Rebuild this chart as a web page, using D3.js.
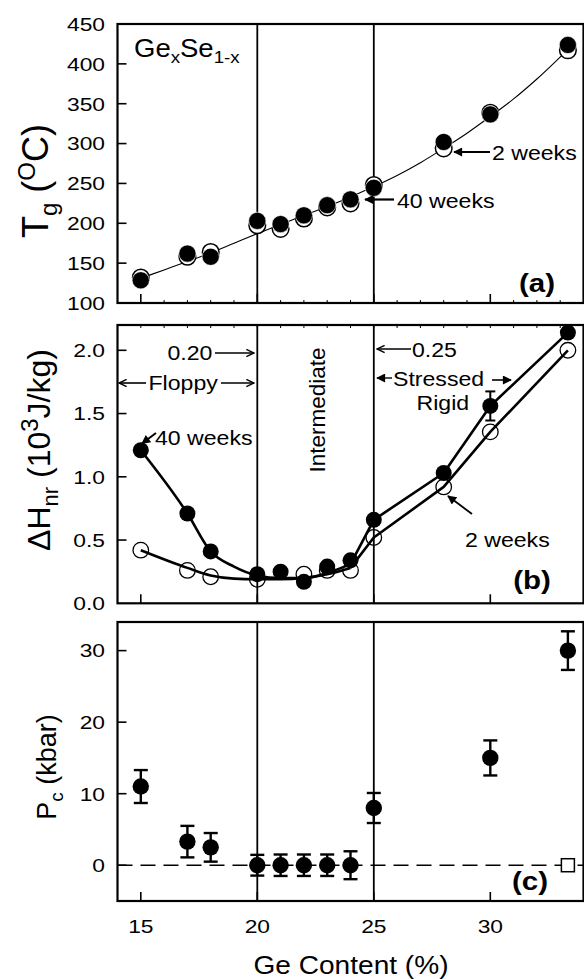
<!DOCTYPE html>
<html><head><meta charset="utf-8">
<script src="https://cdn.jsdelivr.net/npm/d3@7"></script>
<style>
html,body{margin:0;padding:0;background:#fff;}
svg{display:block;font-family:"Liberation Sans",Arial,Helvetica,sans-serif;}
</style></head><body>
<svg id="chart" width="584" height="979"></svg>
<script>
// ---------- data ----------
const geContent = [15, 17, 18, 20, 21, 22, 23, 24, 25, 28, 30, 33.33];
// panel (a) Tg (°C)
const tg40weeks = [128.5, 162, 158, 203, 199, 210, 222.7, 230, 244.5, 302, 336.6, 423.7];
const tg2weeks  = [132, 158, 164, 197.5, 193, 206, 220, 225, 248, 294, 338.7, 417];
const tgFitX = [15, 16, 17, 18, 19, 20, 21, 22, 23, 24, 25, 26, 27, 28, 29, 30, 31, 32, 33.33];
const tgFitY = [131, 141.5, 152, 163, 175, 187, 198.5, 210, 221, 233, 246, 260, 276, 294, 313, 334, 356, 381, 418];
// panel (b) ΔHnr (10^3 J/kg)
const dh40weeks = [1.21, 0.71, 0.41, 0.23, 0.25, 0.17, 0.29, 0.34, 0.66, 1.03, 1.56, 2.14];
const dh2X      = [15, 17, 18, 20, 22, 23, 24, 25, 28, 30, 33.33];
const dh2weeks  = [0.42, 0.26, 0.21, 0.19, 0.23, 0.26, 0.26, 0.52, 0.92, 1.355, 2.0];
const dhCurveX   = [15, 17, 18, 19, 20, 21, 22, 23, 24, 25, 28, 30, 33.33];
const dh40Curve  = [1.21, 0.71, 0.41, 0.29, 0.22, 0.20, 0.20, 0.24, 0.31, 0.66, 1.03, 1.56, 2.14];
const dh2Curve   = [0.42, 0.28, 0.22, 0.195, 0.19, 0.19, 0.20, 0.23, 0.28, 0.52, 0.92, 1.355, 2.0];
const dhErrX = [30], dhErrVal = [1.56], dhErr = [0.115];
// panel (c) Pc (kbar)
const pcX   = [15, 17, 18, 20, 21, 22, 23, 24, 25, 30, 33.33];
const pcVal = [11.0, 3.3, 2.5, 0, 0, 0, 0, 0, 8.0, 15.0, 30.0];
const pcErr = [2.3, 2.2, 2.0, 1.45, 1.5, 1.5, 1.5, 1.95, 2.1, 2.45, 2.7];
const pcOpenX = [33.33], pcOpenVal = [0];
// ticks
const xTicks = [15, 20, 25, 30];
const xMinor = [16, 17, 18, 19, 21, 22, 23, 24, 26, 27, 28, 29, 31, 32, 33];
const tgTicks = [100, 150, 200, 250, 300, 350, 400, 450];
const dhTicks = [0.0, 0.5, 1.0, 1.5, 2.0];
const pcTicks = [0, 10, 20, 30];
const boundaries = [20, 25];

// ---------- layout ----------
const svg = d3.select("#chart");
const X0 = 117.5, X1 = 583.5;
const x = d3.scaleLinear().domain([14, 34]).range([X0, X1]);
const panels = {
  a: {top: 24, bottom: 303, y: d3.scaleLinear().domain([100, 450]).range([303, 24])},
  b: {top: 325, bottom: 603.3, y: d3.scaleLinear().domain([0, 2.2]).range([603.3, 325])},
  c: {top: 622, bottom: 901, y: d3.scaleLinear().domain([-5, 34]).range([901, 622])}
};
const TICKFS = 19, TICKSX = 1.2, ANNFS = 21, ANNSX = 1.1;

const defs = svg.append("defs");
defs.append("marker").attr("id", "solid").attr("viewBox", "0 0 10 10")
  .attr("refX", 9).attr("refY", 5).attr("markerWidth", 11).attr("markerHeight", 9)
  .attr("markerUnits", "userSpaceOnUse").attr("orient", "auto")
  .append("path").attr("d", "M0,0 L10,5 L0,10 z").attr("fill", "#000");
defs.append("marker").attr("id", "open").attr("viewBox", "0 0 10 10")
  .attr("refX", 9.5).attr("refY", 5).attr("markerWidth", 10).attr("markerHeight", 9)
  .attr("markerUnits", "userSpaceOnUse").attr("orient", "auto")
  .append("path").attr("d", "M1,1 L9.5,5 L1,9").attr("fill", "none").attr("stroke", "#000").attr("stroke-width", 1.6);

function drawPanel(p, ticks, fmt, minorBottom, minorTop) {
  const g = svg.append("g");
  g.selectAll(".bnd").data(boundaries).join("line")
    .attr("x1", d => x(d)).attr("x2", d => x(d)).attr("y1", p.top).attr("y2", p.bottom)
    .attr("stroke", "#000").attr("stroke-width", 1.8);
  g.selectAll(".yt").data(ticks.filter(t => p.y(t) > p.top + 2 && p.y(t) < p.bottom - 2)).join("line")
    .attr("x1", X0).attr("x2", X0 + 9).attr("y1", d => p.y(d)).attr("y2", d => p.y(d))
    .attr("stroke", "#000").attr("stroke-width", 1.6);
  g.selectAll(".yl").data(ticks).join("text")
    .attr("transform", d => `translate(105,${p.y(d)}) scale(${TICKSX},1)`).attr("dy", "0.36em")
    .attr("text-anchor", "end").attr("font-size", TICKFS).text(fmt);
  g.selectAll(".xt").data(xTicks).join("line")
    .attr("x1", d => x(d)).attr("x2", d => x(d)).attr("y1", p.bottom).attr("y2", p.bottom - 9)
    .attr("stroke", "#000").attr("stroke-width", 1.6);
  if (minorBottom) g.selectAll(".xm").data(xMinor).join("line")
    .attr("x1", d => x(d)).attr("x2", d => x(d)).attr("y1", p.bottom).attr("y2", p.bottom - 3)
    .attr("stroke", "#000").attr("stroke-width", 1);
  if (minorTop) g.selectAll(".xm2").data(xMinor.concat(xTicks)).join("line")
    .attr("x1", d => x(d)).attr("x2", d => x(d)).attr("y1", p.top).attr("y2", p.top + 3)
    .attr("stroke", "#000").attr("stroke-width", 1);
  return g;
}

function frame(p) {
  svg.append("rect").attr("x", X0).attr("y", p.top).attr("width", X1 - X0).attr("height", p.bottom - p.top)
    .attr("fill", "none").attr("stroke", "#000").attr("stroke-width", 2.2);
}

function arrow(x1, y1, x2, y2, type, w) {
  svg.append("line").attr("x1", x1).attr("y1", y1).attr("x2", x2).attr("y2", y2)
    .attr("stroke", "#000").attr("stroke-width", w || 1.8).attr("marker-end", `url(#${type})`);
}
function label(txt, xx, yy, opts = {}) {
  return svg.append("text")
    .attr("transform", `translate(${xx},${yy}) scale(${opts.sx || ANNSX},1)`)
    .attr("font-size", opts.fs || ANNFS).attr("font-weight", opts.bold ? "bold" : null)
    .attr("text-anchor", opts.anchor || "start").text(txt);
}

// ---------- panel (a) ----------
{
  const p = panels.a;
  const g = drawPanel(p, tgTicks, d => d, true, false);
  const fit = tgFitX.map((d, i) => [d, tgFitY[i]]);
  g.append("path").datum(fit)
    .attr("d", d3.line().x(d => x(d[0])).y(d => p.y(d[1])).curve(d3.curveMonotoneX))
    .attr("fill", "none").attr("stroke", "#000").attr("stroke-width", 1.1);
  g.selectAll(".o").data(geContent.map((d, i) => [d, tg2weeks[i]])).join("circle")
    .attr("cx", d => x(d[0])).attr("cy", d => p.y(d[1])).attr("r", 8.3)
    .attr("fill", "#fff").attr("stroke", "#000").attr("stroke-width", 1.5);
  g.selectAll(".f").data(geContent.map((d, i) => [d, tg40weeks[i]])).join("circle")
    .attr("cx", d => x(d[0])).attr("cy", d => p.y(d[1])).attr("r", 8.6)
    .attr("fill", "#000").attr("stroke", "#fff").attr("stroke-width", 0.6);
  frame(p);
  const t = svg.append("text").attr("transform", "translate(134,57) scale(1.1,1)").attr("font-size", 25);
  t.append("tspan").text("Ge");
  t.append("tspan").attr("font-size", 17).attr("dy", 6).text("x");
  t.append("tspan").attr("dy", -6).text("Se");
  t.append("tspan").attr("font-size", 17).attr("dy", 6).text("1-x");
  arrow(490, 152, 454, 152, "solid", 2.2);
  label("2 weeks", 492, 160);
  arrow(394, 199.5, 365, 199.5, "solid", 2.2);
  label("40 weeks", 397, 208);
  label("(a)", 537, 292, {bold: true, fs: 25, sx: 1.18, anchor: "middle"});
}

// ---------- panel (b) ----------
{
  const p = panels.b;
  const g = drawPanel(p, dhTicks, d => d.toFixed(1), false, true);
  const smooth = d3.line().x(d => x(d[0])).y(d => p.y(d[1])).curve(d3.curveMonotoneX);
  const straight = d3.line().x(d => x(d[0])).y(d => p.y(d[1]));
  [dh2Curve, dh40Curve].forEach(vals => {
    const pts = dhCurveX.map((d, i) => [d, vals[i]]);
    g.append("path").datum(pts.filter(d => d[0] <= 24)).attr("d", smooth)
      .attr("fill", "none").attr("stroke", "#000").attr("stroke-width", 2.6);
    g.append("path").datum(pts.filter(d => d[0] >= 24)).attr("d", straight)
      .attr("fill", "none").attr("stroke", "#000").attr("stroke-width", 2.6).attr("stroke-linejoin", "round");
  });
  dhErrX.forEach((d, i) => {
    const cx = x(d), yt = p.y(dhErrVal[i] + dhErr[i]), yb = p.y(dhErrVal[i] - dhErr[i]);
    g.append("line").attr("x1", cx).attr("x2", cx).attr("y1", yt).attr("y2", yb).attr("stroke", "#000").attr("stroke-width", 2);
    [yt, yb].forEach(yy => g.append("line").attr("x1", cx - 5).attr("x2", cx + 5).attr("y1", yy).attr("y2", yy).attr("stroke", "#000").attr("stroke-width", 2));
  });
  g.selectAll(".f").data(geContent.map((d, i) => [d, dh40weeks[i]])).join("circle")
    .attr("cx", d => x(d[0])).attr("cy", d => p.y(d[1])).attr("r", 8)
    .attr("fill", "#000");
  g.selectAll(".o").data(dh2X.map((d, i) => [d, dh2weeks[i]])).join("circle")
    .attr("cx", d => x(d[0])).attr("cy", d => p.y(d[1])).attr("r", 7.8)
    .attr("fill", "none").attr("stroke", "#000").attr("stroke-width", 1.3);
  frame(p);
  label("0.20", 167.5, 360);
  arrow(215, 353, 254, 353, "open", 1.6);
  arrow(411, 349, 377, 349, "open", 1.6);
  label("0.25", 412, 357);
  arrow(146, 383, 119, 383, "open", 1.6);
  label("Floppy", 148.5, 390);
  arrow(221, 383, 254, 383, "open", 1.6);
  svg.append("text").attr("transform", "translate(325,410) rotate(-90)")
    .attr("text-anchor", "middle").attr("font-size", 22.5).text("Intermediate");
  arrow(392, 378, 377, 378, "solid", 1.4);
  label("Stressed", 393, 386);
  arrow(492, 380, 511, 380, "solid", 1.6);
  label("Rigid", 416.5, 410);
  arrow(156, 433, 142, 443.5, "solid", 2);
  label("40 weeks", 155, 445);
  arrow(472, 514, 448, 496, "solid", 1.8);
  label("2 weeks", 465, 547);
  label("(b)", 532, 589, {bold: true, fs: 25, sx: 1.18, anchor: "middle"});
}

// ---------- panel (c) ----------
{
  const p = panels.c;
  const g = drawPanel(p, pcTicks, d => d, false, false);
  g.append("line").attr("x1", X0).attr("x2", X1).attr("y1", p.y(0)).attr("y2", p.y(0))
    .attr("stroke", "#000").attr("stroke-width", 1.6).attr("stroke-dasharray", "15,8");
  pcX.forEach((d, i) => {
    const cx = x(d), yt = p.y(pcVal[i] + pcErr[i]), yb = p.y(pcVal[i] - pcErr[i]);
    g.append("line").attr("x1", cx).attr("x2", cx).attr("y1", yt).attr("y2", yb).attr("stroke", "#000").attr("stroke-width", 2.4);
    [yt, yb].forEach(yy => g.append("line").attr("x1", cx - 7).attr("x2", cx + 7).attr("y1", yy).attr("y2", yy).attr("stroke", "#000").attr("stroke-width", 2.4));
  });
  g.selectAll(".f").data(pcX.map((d, i) => [d, pcVal[i]])).join("circle")
    .attr("cx", d => x(d[0])).attr("cy", d => p.y(d[1])).attr("r", 8.2)
    .attr("fill", "#000");
  g.selectAll(".sq").data(pcOpenX.map((d, i) => [d, pcOpenVal[i]])).join("rect")
    .attr("x", d => x(d[0]) - 6.5).attr("y", d => p.y(d[1]) - 6.5).attr("width", 13).attr("height", 13)
    .attr("fill", "#fff").attr("stroke", "#000").attr("stroke-width", 1.5);
  frame(p);
  label("(c)", 530, 890, {bold: true, fs: 25, sx: 1.18, anchor: "middle"});
  svg.selectAll(".xl").data(xTicks).join("text")
    .attr("transform", d => `translate(${x(d)},933) scale(${TICKSX},1)`)
    .attr("text-anchor", "middle").attr("font-size", TICKFS).text(d => d);
}

// ---------- axis titles ----------
{
  const t = svg.append("text").attr("transform", "translate(48,181) rotate(-90)")
    .attr("text-anchor", "middle").attr("font-size", 36);
  t.append("tspan").text("T");
  t.append("tspan").attr("font-size", 24).attr("dy", 9).text("g");
  t.append("tspan").attr("dy", -9).text(" (");
  t.append("tspan").attr("font-size", 24).attr("dy", -13).text("O");
  t.append("tspan").attr("dy", 13).text("C)");

  const h = svg.append("text").attr("transform", "translate(50,450) rotate(-90)")
    .attr("text-anchor", "middle").attr("font-size", 32);
  h.append("tspan").text("ΔH");
  h.append("tspan").attr("font-size", 22).attr("dy", 8).text("nr");
  h.append("tspan").attr("dy", -8).text(" (10");
  h.append("tspan").attr("font-size", 24).attr("dy", -12).text("3");
  h.append("tspan").attr("dy", 12).text("J/kg)");

  const pc = svg.append("text").attr("transform", "translate(56,767) rotate(-90)")
    .attr("text-anchor", "middle").attr("font-size", 27);
  pc.append("tspan").text("P");
  pc.append("tspan").attr("font-size", 19).attr("dy", 7).text("c");
  pc.append("tspan").attr("dy", -7).text(" (kbar)");

  svg.append("text").attr("transform", "translate(351,974) scale(1.08,1)").attr("text-anchor", "middle")
    .attr("font-size", 26).text("Ge Content (%)");
}
</script>
</body></html>
